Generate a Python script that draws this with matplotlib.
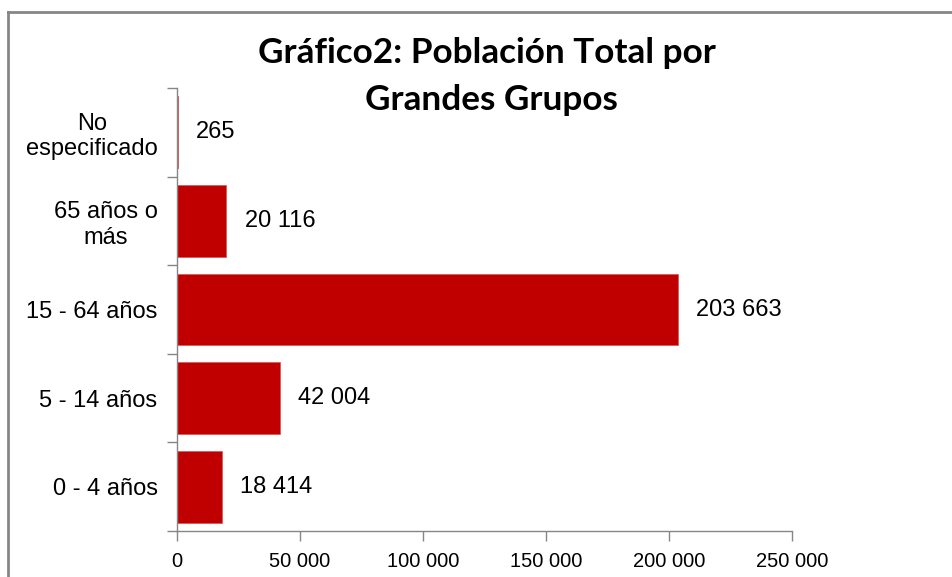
import matplotlib
matplotlib.use('Agg')
import matplotlib.pyplot as plt
from matplotlib.lines import Line2D

# data, bottom to top
categorias = ['0 - 4 años', '5 - 14 años', '15 - 64 años', '65 años o\nmás', 'No\nespecificado']
poblacion = [18414, 42004, 203663, 20116, 265]
ticks_x = [0, 50000, 100000, 150000, 200000, 250000]

ROJO = '#C00000'
GRIS = '#868686'

def miles(v):
    return f'{v:,}'.replace(',', ' ')

plt.rcParams['font.family'] = ['Liberation Sans', 'DejaVu Sans']

fig = plt.figure(figsize=(9.53, 5.77), dpi=100)
ax = fig.add_axes([177 / 953, 46 / 577, 615 / 953, 443 / 577])

pos = list(range(len(categorias)))
ax.barh(pos, poblacion, height=0.81, color=ROJO, edgecolor='#D9534F', linewidth=0.5)

for p, v in zip(pos, poblacion):
    ax.annotate(miles(v), (v, p), xytext=(13, 0), textcoords='offset points',
                ha='left', va='center', fontsize=17, color='black')

ax.set_xlim(0, 250000)
ax.set_ylim(-0.5, len(categorias) - 0.5)

ax.set_xticks(ticks_x)
ax.set_xticklabels([miles(t) for t in ticks_x], fontsize=14.5)

# ticks between categories, labels at category centers
ax.set_yticks([p - 0.5 for p in pos] + [pos[-1] + 0.5])
ax.set_yticklabels([])
ax.set_yticks(pos, minor=True)
ax.set_yticklabels(categorias, minor=True, fontsize=17, ha='right', multialignment='center')
ax.tick_params(axis='y', which='minor', length=0, pad=14)
ax.tick_params(axis='y', which='major', length=7, color=GRIS, width=1)
ax.tick_params(axis='x', length=7, color=GRIS, width=1, pad=8)

for s in ['top', 'right']:
    ax.spines[s].set_visible(False)
for s in ['left', 'bottom']:
    ax.spines[s].set_color(GRIS)
    ax.spines[s].set_linewidth(1)

# titulo
fig.text(487 / 953, (577 - 63) / 577, 'Gráfico2: Población Total por', ha='center', va='baseline',
         fontsize=25.3, fontweight='bold', family='Lato')
fig.text(491 / 953, (577 - 110) / 577, 'Grandes Grupos', ha='center', va='baseline',
         fontsize=25.3, fontweight='bold', family='Lato')

# marco del grafico (recortado a derecha y abajo)
y_top = (577 - 12) / 577
x_left = 8 / 953
fig.add_artist(Line2D([x_left, 1.01], [y_top, y_top], color=GRIS, lw=2, transform=fig.transFigure))
fig.add_artist(Line2D([x_left, x_left], [-0.01, y_top], color=GRIS, lw=2, transform=fig.transFigure))

fig.savefig('out.png', dpi=100, facecolor='white')
